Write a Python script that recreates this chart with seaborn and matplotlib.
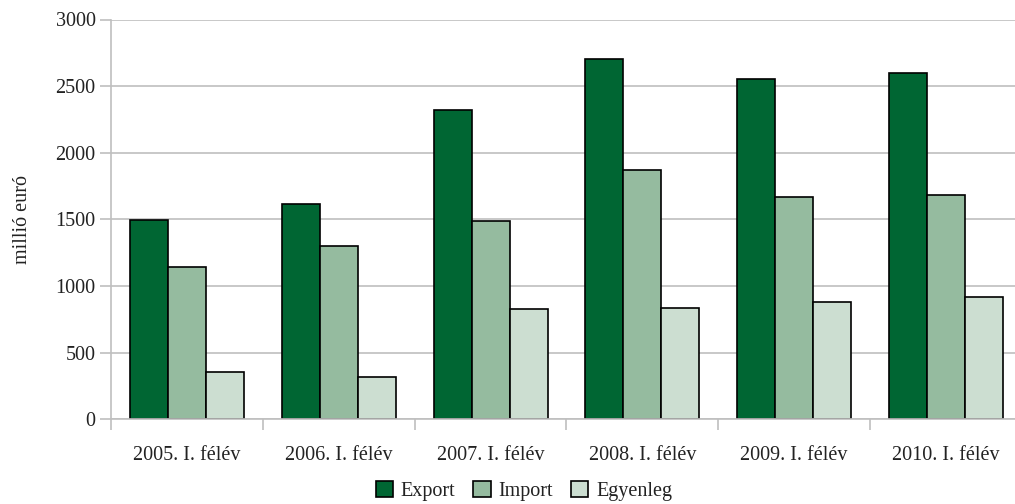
import matplotlib
matplotlib.use("Agg")
import matplotlib.pyplot as plt
from matplotlib.ticker import FixedLocator, MultipleLocator
import seaborn as sns
import pandas as pd

categories = ["2005. I. félév", "2006. I. félév", "2007. I. félév",
              "2008. I. félév", "2009. I. félév", "2010. I. félév"]
export = [1495, 1615, 2320, 2707, 2557, 2602]
imports = [1142, 1300, 1489, 1872, 1671, 1684]
egyenleg = [355, 318, 830, 836, 883, 916]
series = ["Export", "Import", "Egyenleg"]
colors = ["#006633", "#95BB9F", "#CCDED1"]

df = pd.DataFrame({
    "cat": categories * 3,
    "series": [s for s in series for _ in categories],
    "value": export + imports + egyenleg,
})

sns.set_theme(style="white")
plt.rcParams["font.family"] = ["Liberation Serif", "DejaVu Serif"]
fs = 14.5

fig = plt.figure(figsize=(10.15, 5.04), dpi=100)
ax = fig.add_axes([111 / 1015, 1 - 419.3 / 504, 911 / 1015, 399.8 / 504])

sns.barplot(data=df, x="cat", y="value", hue="series", palette=colors,
            width=0.75, edgecolor="black", linewidth=1.2, saturation=1,
            ax=ax, legend=True)

ax.set_ylim(0, 3000)
ax.set_xlim(-0.5, len(categories) - 0.5)
ax.yaxis.set_major_locator(MultipleLocator(500))
ax.grid(axis="y", color="#BFBFBF", linewidth=1.2)
ax.set_axisbelow(True)
for s in ["top", "right"]:
    ax.spines[s].set_visible(False)
for s in ["left", "bottom"]:
    ax.spines[s].set_color("#BFBFBF")
    ax.spines[s].set_linewidth(1.2)

ax.tick_params(axis="y", length=8, width=1.2, color="#BFBFBF", pad=3,
               labelsize=fs, labelcolor="#222222", left=True)
ax.tick_params(axis="x", which="major", length=0, pad=19,
               labelsize=fs, labelcolor="#222222")
ax.xaxis.set_minor_locator(FixedLocator([i - 0.5 for i in range(len(categories) + 1)]))
ax.tick_params(axis="x", which="minor", length=8, width=1.2, color="#BFBFBF",
               bottom=True)

ax.set_xlabel("")
ax.set_ylabel("millió euró", fontsize=fs, color="#222222")
ax.yaxis.set_label_coords(-0.087, 0.5)

handles, labels = ax.get_legend_handles_labels()
ax.get_legend().remove()
fig.legend(handles, labels, loc="center", bbox_to_anchor=(524 / 1015, 13 / 504),
           ncol=3, frameon=False, fontsize=fs, handlelength=0.85,
           handleheight=0.85, handletextpad=0.4, columnspacing=0.9,
           labelcolor="#222222")

fig.savefig("out.png", dpi=100)
